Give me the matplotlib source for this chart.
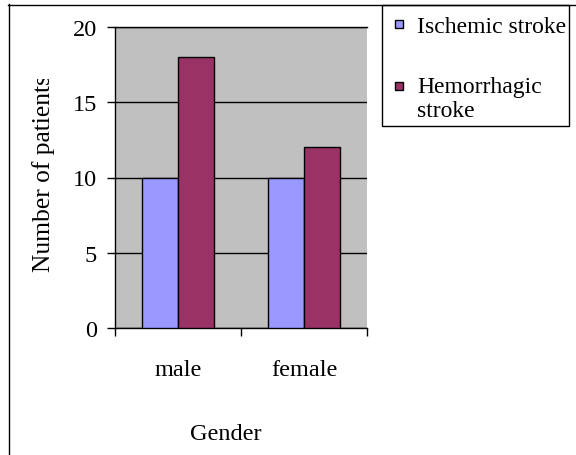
import matplotlib
matplotlib.use("Agg")
import matplotlib.pyplot as plt
from matplotlib.lines import Line2D
from matplotlib.patches import Rectangle
from matplotlib.transforms import Bbox, TransformedBbox
import numpy as np

# Data
genders = ["male", "female"]
series_names = ["Ischemic stroke", "Hemorrhagic stroke"]
ischemic = [10, 10]
hemorrhagic = [18, 12]
y_ticks = [0, 5, 10, 15, 20]

ISCH_COLOR = "#9999FF"
HEM_COLOR = "#993366"
PLOT_BG = "#C0C0C0"

W, H = 576, 456
DPI = 100
plt.rcParams["font.family"] = ["Liberation Serif", "DejaVu Serif"]

fig = plt.figure(figsize=(W / DPI, H / DPI), dpi=DPI)


def fx(px):
    return px / W


def fy(py):
    return 1 - py / H


# plot area in pixel units: left 115, top 28, right 367, bottom 329
ax = fig.add_axes([fx(115), fy(329), (367 - 115) / W, (329 - 28) / H])
ax.set_facecolor(PLOT_BG)

x = np.arange(len(genders))
bw = 0.2857
b1 = ax.bar(x - bw / 2, ischemic, bw, color=ISCH_COLOR, edgecolor="black",
            linewidth=1, zorder=3, label=series_names[0])
b2 = ax.bar(x + bw / 2, hemorrhagic, bw, color=HEM_COLOR, edgecolor="black",
            linewidth=1, zorder=3, label=series_names[1])

ax.set_xlim(-0.5, len(genders) - 0.5)
ax.set_ylim(0, 20)
ax.set_yticks(y_ticks)
ax.yaxis.grid(True, color="black", linewidth=1, zorder=1)
ax.set_axisbelow(True)

# category boundaries carry the tick marks, labels sit at the centres
ax.set_xticks(np.arange(len(genders) + 1) - 0.5)
ax.set_xticklabels([])
ax.set_xticks(x, minor=True)
ax.set_xticklabels(genders, minor=True)
ax.tick_params(axis="x", which="major", direction="out", length=5.8, width=1)
ax.tick_params(axis="x", which="minor", length=0, pad=22, labelsize=17.5)
ax.tick_params(axis="y", direction="out", length=5.8, width=1, pad=7, labelsize=17.5)

ax.spines["right"].set_visible(False)
for side in ("left", "bottom", "top"):
    ax.spines[side].set_color("black")
    ax.spines[side].set_linewidth(1)

# axis titles
ax.set_xlabel("Gender", fontsize=17.5)
ax.xaxis.set_label_coords((226 - 115) / 252, (329 - 440) / 301)
ax.xaxis.label.set_va("baseline")

ylab = ax.set_ylabel("Number of patients", fontsize=18.4)
ylab.set_rotation_mode("default")
ylab.set_ha("center")
ylab.set_va("bottom")
ax.yaxis.set_label_coords((44 - 115) / 252, (329 - 272) / 301)
ylab.set_clip_on(True)
ylab.set_clip_box(TransformedBbox(Bbox.from_extents(0, 0, 1, fy(80)), fig.transFigure))

# chart border
fig.add_artist(Line2D([fx(8), 1], [fy(5.5), fy(5.5)], color="black", linewidth=1))
fig.add_artist(Line2D([fx(8.5), fx(8.5)], [fy(5), 0], color="black", linewidth=1))

# legend box
fig.add_artist(Rectangle((fx(381.5), fy(126.5)), (569 - 381.5) / W, (126.5 - 5.5) / H,
                         transform=fig.transFigure, facecolor="white",
                         edgecolor="black", linewidth=1))
legend_rows = [
    (b1[0].get_facecolor(), 25, ["Ischemic stroke"], [33]),
    (b2[0].get_facecolor(), 87, ["Hemorrhagic", "stroke"], [93, 117]),
]
for color, cy, lines, baselines in legend_rows:
    fig.add_artist(Rectangle((fx(395), fy(cy + 4)), 8 / W, 8 / H,
                             transform=fig.transFigure, facecolor=color,
                             edgecolor="black", linewidth=1))
    for text, base in zip(lines, baselines):
        fig.text(fx(417), fy(base), text, fontsize=17, va="baseline", ha="left")

fig.savefig("out.png", dpi=DPI)
